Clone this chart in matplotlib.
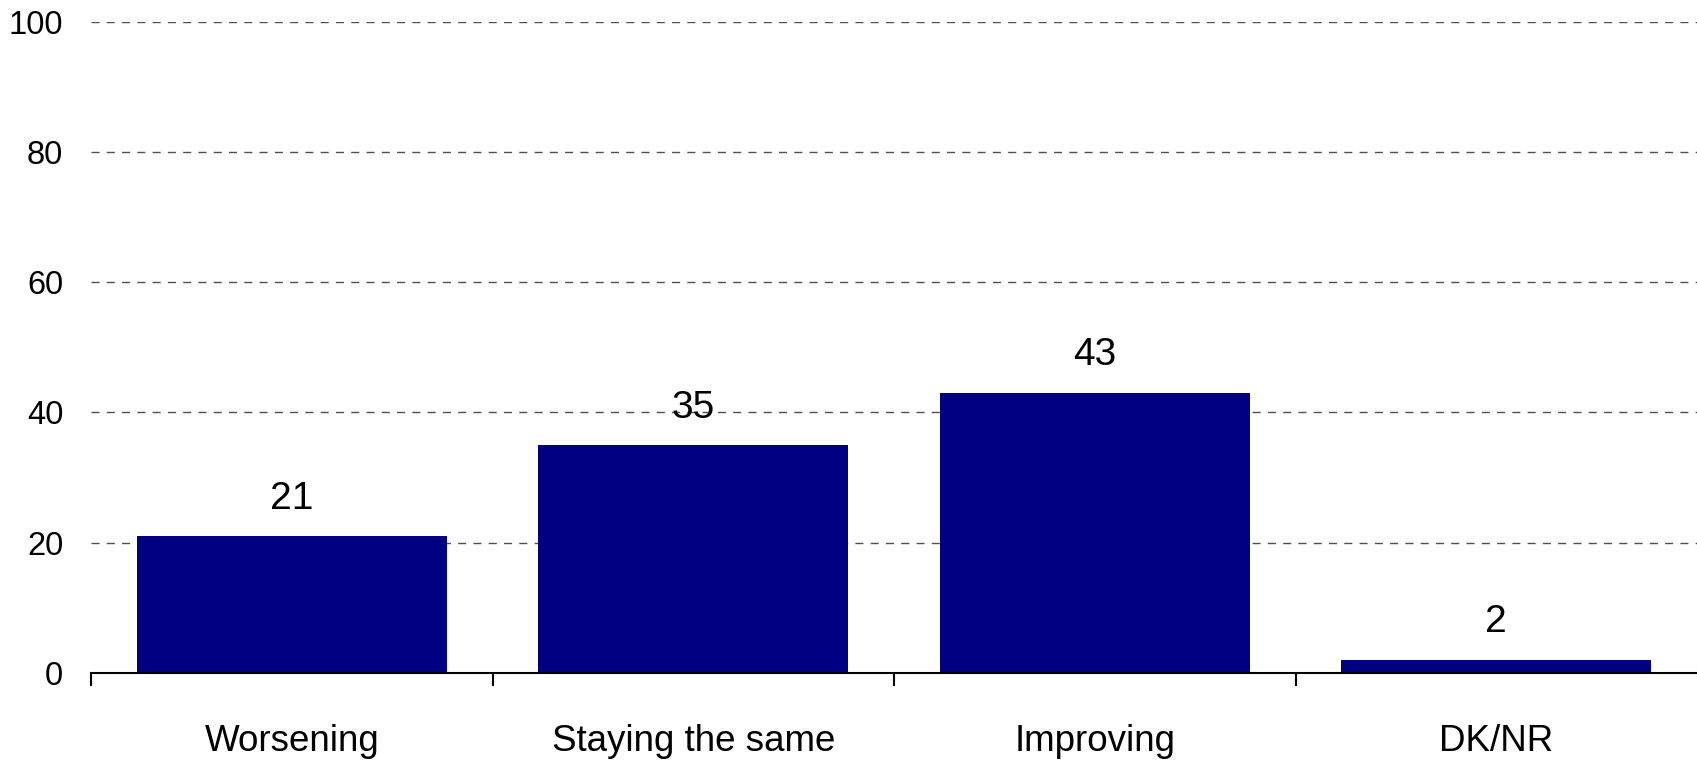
import matplotlib
matplotlib.use("Agg")
import matplotlib.pyplot as plt
import numpy as np

categories = ["Worsening", "Staying the same", "Improving", "DK/NR"]
values = [21, 35, 43, 2]
yticks = [0, 20, 40, 60, 80, 100]

plt.rcParams['font.family'] = ['Liberation Sans', 'DejaVu Sans']

fig = plt.figure(figsize=(16.97, 7.62), dpi=100)
ax = fig.add_axes([91/1697, 89/762, 1 - 91/1697, (673 - 21.6)/762])

x = np.arange(len(categories))
ax.bar(x, values, width=0.772, color="#000080", zorder=2)

for xi, v in zip(x, values):
    ax.annotate(str(v), (xi, v), xytext=(0, 27), textcoords="offset points",
                ha="center", va="center", fontsize=28, color="black")

ax.set_xlim(-0.5, len(categories) - 0.5)
ax.set_ylim(0, 100)
ax.set_yticks(yticks)
ax.set_yticklabels([str(t) for t in yticks], fontsize=23.5)
ax.tick_params(axis="y", length=0, pad=20)

ax.set_xticks(x)
ax.set_xticklabels(categories, fontsize=26.5)
ax.tick_params(axis="x", which="major", length=0, pad=37)
ax.set_xticks(np.arange(len(categories)) - 0.5, minor=True)
ax.tick_params(axis="x", which="minor", length=9, width=1.5, direction="out", color="black")

ax.yaxis.grid(True, linestyle=(0, (5.8, 5.2)), color="#505050", linewidth=1.0)
ax.set_axisbelow(True)

for s in ["top", "right", "left"]:
    ax.spines[s].set_visible(False)
ax.spines["bottom"].set_linewidth(1.5)
ax.spines["bottom"].set_zorder(3)

fig.savefig("out.png", dpi=100)
